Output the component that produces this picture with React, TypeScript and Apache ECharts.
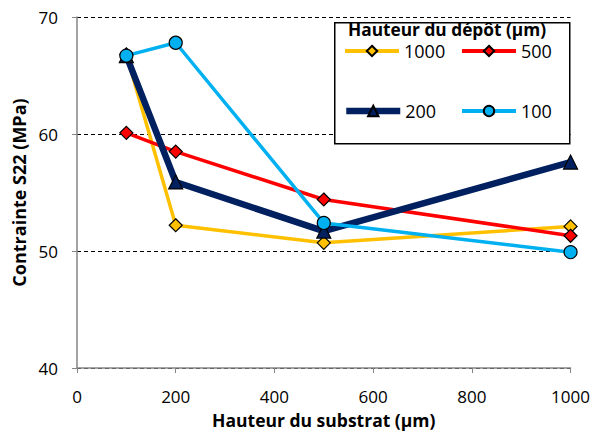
import React, { useEffect, useRef } from "react";
import * as echarts from "echarts";

const xValues = [100, 200, 500, 1000];
const s1000 = [66.8, 52.2, 50.7, 52.1];
const s500 = [60.1, 58.5, 54.4, 51.3];
const s200 = [66.7, 55.9, 51.7, 57.6];
const s100 = [66.7, 67.8, 52.4, 49.9];
const seriesNames = ["1000", "500", "200", "100"];
const legendTitle = "Hauteur du dépôt (µm)";
const xTitle = "Hauteur du substrat (µm)";
const yTitle = "Contrainte S22 (MPa)";

const FONT = "Open Sans";

export default function App() {
  const ref = useRef<HTMLDivElement>(null);
  useEffect(() => {
    const chart = echarts.init(ref.current!, null, { renderer: "svg" });
    const pair = (arr: number[]) => xValues.map((x, i) => [x, arr[i]]);
    const mk = (name: string, data: number[], color: string, width: number, symbol: string, size: number) => ({
      name,
      type: "line",
      data: pair(data),
      symbol,
      symbolSize: size,
      lineStyle: { color, width },
      itemStyle: { color, borderColor: "#000", borderWidth: 1.2 },
      z: 2,
    });
    const leg = (name: string, left: number, top: number, lw: number) => ({
      data: [name],
      left,
      top,
      padding: 0,
      itemWidth: 54,
      itemHeight: 13,
      itemGap: 0,
      z: 20,
      selectedMode: false,
      lineStyle: { width: lw },
      textStyle: { fontFamily: FONT, fontSize: 18, color: "#000" },
      orient: "horizontal",
    });
    chart.setOption({
      animation: false,
      grid: { left: 77, right: 19, top: 17, bottom: 69 },
      xAxis: {
        type: "value",
        min: 0,
        max: 1000,
        interval: 200,
        name: xTitle,
        nameLocation: "middle",
        nameGap: 43,
        nameTextStyle: { fontFamily: FONT, fontSize: 17.5, fontWeight: "bold", color: "#000" },
        axisLine: { lineStyle: { color: "#868686", width: 1.5 } },
        axisTick: { show: true, length: 5, lineStyle: { color: "#868686" } },
        axisLabel: { fontFamily: FONT, fontSize: 17, color: "#000", margin: 20, formatter: (v: number) => String(v) },
        splitLine: { show: false },
      },
      yAxis: {
        type: "value",
        min: 40,
        max: 70,
        interval: 10,
        name: yTitle,
        nameLocation: "middle",
        nameGap: 45,
        nameTextStyle: { fontFamily: FONT, fontSize: 18, fontWeight: "bold", color: "#000" },
        axisLine: { show: true, lineStyle: { color: "#868686", width: 1.5 } },
        axisTick: { show: true, length: 5, lineStyle: { color: "#868686" } },
        axisLabel: { fontFamily: FONT, fontSize: 17, color: "#000", margin: 19 },
        splitLine: { show: true, lineStyle: { color: "#000", type: [4, 3], width: 1 } },
      },
      legend: [
        leg(seriesNames[0], 343, 42, 4),
        leg(seriesNames[1], 460, 42, 4),
        leg(seriesNames[2], 343, 102, 6.5),
        leg(seriesNames[3], 460, 102, 4),
      ],
      graphic: [
        {
          type: "rect",
          left: 334,
          top: 22,
          shape: { width: 235, height: 121 },
          style: { fill: "#fff", stroke: "#000", lineWidth: 1.5 },
          z: 10,
        },
        {
          type: "text",
          left: 348,
          top: 21,
          style: { text: legendTitle, fontFamily: FONT, fontSize: 17.3, fontWeight: "bold", fill: "#000" },
          z: 11,
        },
      ],
      series: [
        mk(seriesNames[0], s1000, "#FFC000", 3.5, "diamond", 13),
        mk(seriesNames[1], s500, "#FF0000", 3.5, "diamond", 13),
        mk(seriesNames[2], s200, "#002060", 6.5, "triangle", 14),
        mk(seriesNames[3], s100, "#00B0F0", 3.5, "circle", 13),
      ],
    });
    return () => chart.dispose();
  }, []);
  return <div ref={ref} style={{ width: 593, height: 437, position: "absolute", left: 0, top: 0 }} />;
}
